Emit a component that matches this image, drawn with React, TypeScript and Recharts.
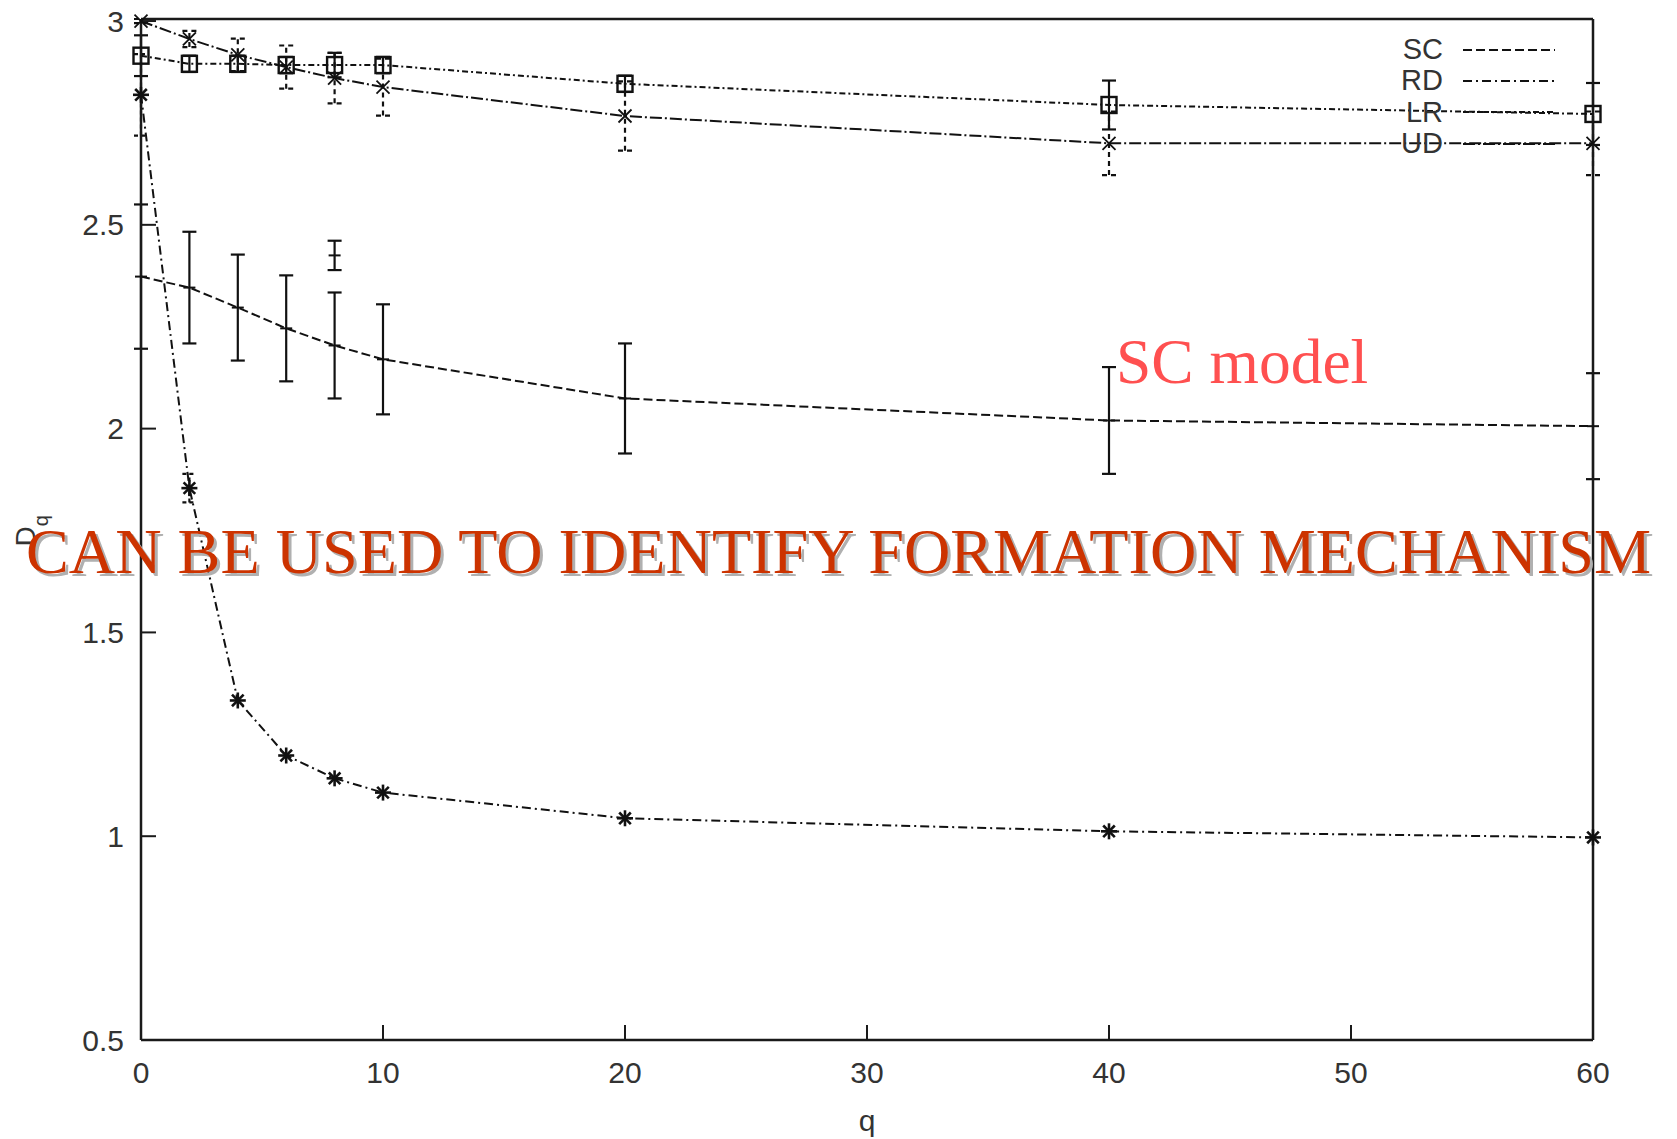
import React from "react";
import { LineChart, Line, XAxis, YAxis, ErrorBar, Legend } from "recharts";

const FONT = '"Liberation Sans", Arial, Helvetica, sans-serif';
const SERIF = '"Liberation Serif", "Times New Roman", Times, serif';
const AXIS = "#1a1a1a";
const LINE = "#111";
const TEXT = "#333";

// q values shared by the four curves
const Q = [0, 2, 4, 6, 8, 10, 20, 40, 60];

const SC_VALUES = [2.373, 2.346, 2.297, 2.246, 2.204, 2.17, 2.074, 2.02, 2.006];
const SC_ERR = [0.177, 0.137, 0.13, 0.13, 0.13, 0.135, 0.135, 0.131, 0.13];

const RD_VALUES = [2.819, 1.854, 1.333, 1.198, 1.142, 1.107, 1.044, 1.012, 0.997];
const RD_ERR = [0.1, 0.035, 0, 0, 0, 0, 0, 0, 0];

const LR_VALUES = [2.915, 2.895, 2.895, 2.892, 2.892, 2.892, 2.846, 2.794, 2.772];
const LR_ERR = [0.05, 0.02, 0.02, 0.02, 0.03, 0.02, 0.02, 0.06, 0.076];

const UD_VALUES = [3.0, 2.956, 2.917, 2.887, 2.86, 2.838, 2.767, 2.7, 2.7];
const UD_ERR = [0.005, 0.02, 0.04, 0.053, 0.062, 0.07, 0.085, 0.078, 0.078];

// the lone short error bar sitting at q = 8
const EXTRA_Q = [8];
const EXTRA_VALUES = [2.425];
const EXTRA_ERR = [0.036];

const X_TICKS = [0, 10, 20, 30, 40, 50, 60];
const Y_TICKS = [0.5, 1, 1.5, 2, 2.5, 3];

const SERIES = [
  { key: "sc", name: "SC", dash: "9 4", marker: "plus", errDash: undefined },
  { key: "rd", name: "RD", dash: "9 4 2 4", marker: "star", errDash: "4 3" },
  { key: "lr", name: "LR", dash: "6 3 2 3", marker: "square", errDash: undefined },
  { key: "ud", name: "UD", dash: "12 3 2 3", marker: "cross", errDash: "5 4" },
];

const rows = Q.map((q, i) => ({
  q,
  sc: SC_VALUES[i],
  scErr: SC_ERR[i],
  rd: RD_VALUES[i],
  rdErr: RD_ERR[i],
  lr: LR_VALUES[i],
  lrErr: LR_ERR[i],
  ud: UD_VALUES[i],
  udErr: UD_ERR[i],
}));

const extraRows = EXTRA_Q.map((q, i) => ({ q, v: EXTRA_VALUES[i], e: EXTRA_ERR[i] }));

function markerFor(kind: string) {
  return (p: any) => {
    const { cx, cy, index } = p;
    const k = `${kind}-${index}`;
    if (cx == null || cy == null || Number.isNaN(cx) || Number.isNaN(cy)) return <g key={k} />;
    if (kind === "star") {
      const r = 8;
      const d = 5.8;
      return (
        <g key={k} stroke={LINE} strokeWidth={2.6}>
          <line x1={cx - r} y1={cy} x2={cx + r} y2={cy} />
          <line x1={cx} y1={cy - r} x2={cx} y2={cy + r} />
          <line x1={cx - d} y1={cy - d} x2={cx + d} y2={cy + d} />
          <line x1={cx - d} y1={cy + d} x2={cx + d} y2={cy - d} />
        </g>
      );
    }
    if (kind === "cross") {
      const d = 6.5;
      return (
        <g key={k} stroke={LINE} strokeWidth={1.8}>
          <line x1={cx - d} y1={cy - d} x2={cx + d} y2={cy + d} />
          <line x1={cx - d} y1={cy + d} x2={cx + d} y2={cy - d} />
        </g>
      );
    }
    if (kind === "square") {
      return <rect key={k} x={cx - 7.5} y={cy - 8} width={15} height={16} fill="none" stroke={LINE} strokeWidth={2.4} />;
    }
    if (kind === "plus") {
      return (
        <g key={k} stroke={LINE} strokeWidth={2}>
          <line x1={cx - 6} y1={cy} x2={cx + 6} y2={cy} />
        </g>
      );
    }
    return <line key={k} x1={cx - 6} y1={cy} x2={cx + 6} y2={cy} stroke={LINE} strokeWidth={2} />;
  };
}

function renderYTitle(props: any) {
  const vb = props.viewBox || { x: 0, y: 0, width: 0, height: 0 };
  const x = vb.x + 35;
  const y = vb.y + vb.height / 2 + 17;
  return (
    <text transform={`translate(${x},${y}) rotate(-90)`} fontFamily={FONT} fontSize={28} fill={TEXT}>
      D
      <tspan dy={13} fontSize={20}>
        q
      </tspan>
    </text>
  );
}

function renderLegend(props: any) {
  const names = (props.payload || []).filter((e: any) => e.type !== "none").map((e: any) => e.value);
  const items = SERIES.filter((s) => names.includes(s.name));
  return (
    <div style={{ fontFamily: FONT, fontSize: 29, color: TEXT }}>
      {items.map((s) => (
        <div key={s.name} style={{ display: "flex", alignItems: "center", height: 31.3 }}>
          <span style={{ width: 63, textAlign: "right", lineHeight: "31px" }}>{s.name}</span>
          <svg width={113} height={10}>
            <line x1={20} x2={112} y1={5} y2={5} stroke={LINE} strokeWidth={2} strokeDasharray={s.dash} />
          </svg>
        </div>
      ))}
    </div>
  );
}

export default function App() {
  return (
    <div style={{ position: "absolute", left: 0, top: 0, width: 1677, height: 1139, background: "#fff" }}>
      <LineChart width={1677} height={1139} data={rows} margin={{ top: 0, right: 0, bottom: 0, left: 0 }}>
        <XAxis
          dataKey="q"
          type="number"
          domain={[0, 60]}
          ticks={X_TICKS}
          interval={0}
          height={99}
          tickSize={-15}
          tickMargin={37}
          stroke={AXIS}
          axisLine={{ strokeWidth: 2.5 }}
          tickLine={{ strokeWidth: 2 }}
          tick={{ fontSize: 30, fill: TEXT, fontFamily: FONT }}
          label={{ value: "q", position: "insideBottom", offset: 8, fontSize: 30, fill: TEXT, fontFamily: FONT }}
        />
        <XAxis
          xAxisId="top"
          orientation="top"
          type="number"
          domain={[0, 60]}
          ticks={X_TICKS}
          interval={0}
          height={19}
          tickSize={-15}
          stroke={AXIS}
          axisLine={{ strokeWidth: 2.5 }}
          tickLine={{ strokeWidth: 2 }}
          tickFormatter={() => ""}
        />
        <YAxis
          type="number"
          domain={[0.5, 3]}
          ticks={Y_TICKS}
          interval={0}
          width={141}
          tickSize={-15}
          tickMargin={32}
          stroke={AXIS}
          axisLine={{ strokeWidth: 2.5 }}
          tickLine={{ strokeWidth: 2 }}
          tick={{ fontSize: 30, fill: TEXT, fontFamily: FONT }}
          label={renderYTitle}
        />
        <YAxis
          yAxisId="right"
          orientation="right"
          type="number"
          domain={[0.5, 3]}
          ticks={Y_TICKS}
          interval={0}
          width={84}
          tickSize={-15}
          stroke={AXIS}
          axisLine={{ strokeWidth: 2.5 }}
          tickLine={{ strokeWidth: 2 }}
          tickFormatter={() => ""}
        />
        <Legend
          content={renderLegend}
          layout="horizontal"
          align="center"
          verticalAlign="middle"
          wrapperStyle={{ position: "absolute", left: 1380, top: 34, width: 200, right: "auto", bottom: "auto" }}
        />
        {SERIES.map((s) => (
          <Line
            key={s.key}
            dataKey={s.key}
            name={s.name}
            type="linear"
            stroke={LINE}
            strokeWidth={2}
            strokeDasharray={s.dash}
            dot={markerFor(s.marker)}
            activeDot={false}
            isAnimationActive={false}
          >
            <ErrorBar
              dataKey={`${s.key}Err`}
              width={7}
              strokeWidth={2.2}
              stroke={LINE}
              strokeDasharray={s.errDash}
              direction="y"
            />
          </Line>
        ))}
        <Line
          data={extraRows}
          dataKey="v"
          name="extra"
          legendType="none"
          stroke="none"
          dot={markerFor("tick")}
          activeDot={false}
          isAnimationActive={false}
        >
          <ErrorBar dataKey="e" width={7} strokeWidth={2.2} stroke={LINE} direction="y" />
        </Line>
      </LineChart>
      <svg width={1677} height={1139} style={{ position: "absolute", left: 0, top: 0, pointerEvents: "none" }}>
        <text x={1116} y={383} fontFamily={SERIF} fontSize={63.5} fill="#ff5050">
          SC model
        </text>
        <text x={29} y={576} fontFamily={SERIF} fontSize={63} fill="#b0b0b0" textLength={1625} lengthAdjust="spacingAndGlyphs">
          CAN BE USED TO IDENTIFY FORMATION MECHANISM
        </text>
        <text x={26} y={573} fontFamily={SERIF} fontSize={63} fill="#cc3300" textLength={1625} lengthAdjust="spacingAndGlyphs">
          CAN BE USED TO IDENTIFY FORMATION MECHANISM
        </text>
      </svg>
    </div>
  );
}
